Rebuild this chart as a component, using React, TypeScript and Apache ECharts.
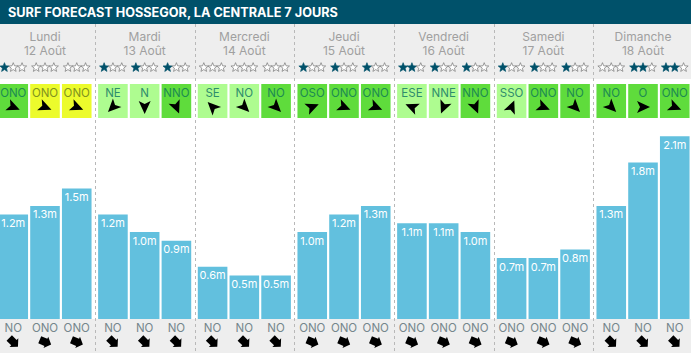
import React, { useEffect, useRef } from "react";
import * as echarts from "echarts";

const title = "SURF FORECAST HOSSEGOR, LA CENTRALE 7 JOURS";
const dayNames = ["Lundi", "Mardi", "Mercredi", "Jeudi", "Vendredi", "Samedi", "Dimanche"];
const dayDates = ["12 Août", "13 Août", "14 Août", "15 Août", "16 Août", "17 Août", "18 Août"];
const waveHeights = [
  [1.2, 1.3, 1.5],
  [1.2, 1.0, 0.9],
  [0.6, 0.5, 0.5],
  [1.0, 1.2, 1.3],
  [1.1, 1.1, 1.0],
  [0.7, 0.7, 0.8],
  [1.3, 1.8, 2.1],
];
const starCounts = [
  [1, 0, 0],
  [1, 1, 1],
  [0, 0, 0],
  [1, 1, 1],
  [2, 1, 1],
  [1, 1, 1],
  [0, 2, 2],
];
const windDirs = [
  ["ONO", "ONO", "ONO"],
  ["NE", "N", "NNO"],
  ["SE", "NO", "NO"],
  ["OSO", "ONO", "ONO"],
  ["ESE", "NNE", "NNO"],
  ["SSO", "ONO", "NO"],
  ["NO", "O", "ONO"],
];
// g = strong green, l = light green, y = yellow
const windKinds = [
  ["g", "y", "y"],
  ["l", "l", "g"],
  ["l", "l", "g"],
  ["g", "g", "g"],
  ["l", "l", "g"],
  ["l", "g", "g"],
  ["g", "g", "g"],
];
const swellDirs = [
  ["NO", "ONO", "ONO"],
  ["NO", "NO", "NO"],
  ["NO", "NO", "NO"],
  ["ONO", "ONO", "ONO"],
  ["ONO", "ONO", "ONO"],
  ["ONO", "ONO", "ONO"],
  ["NO", "NO", "NO"],
];

const compass: Record<string, number> = {
  N: 0, NNE: 22.5, NE: 45, ENE: 67.5, E: 90, ESE: 112.5, SE: 135, SSE: 157.5,
  S: 180, SSO: 202.5, SO: 225, OSO: 247.5, O: 270, ONO: 292.5, NO: 315, NNO: 337.5,
};
const tileFill: Record<string, string> = { g: "#5fdc3c", l: "#aefc90", y: "#ecfb2c" };
const tileText: Record<string, string> = { g: "#1c8a52", l: "#2e8c6c", y: "#7f9220" };

const FONT = "Inter, 'Noto Sans', sans-serif";
const TEAL = "#00516a";
const BAR = "#62c0de";
const GREY_BG = "#eeeeee";
const SLOT = 0.3185;
const BAR_W = 29.6;

echarts.graphic.registerShape(
  "rateStar",
  echarts.graphic.extendPath(
    "M0 -4.4L1.12 -1.54L4.18 -1.36L1.81 0.59L2.59 3.56L0 1.9L-2.59 3.56L-1.81 0.59L-4.18 -1.36L-1.12 -1.54Z",
    {}
  )
);
echarts.graphic.registerShape(
  "windDart",
  echarts.graphic.extendPath("M0 7L6 -6L0 -3L-6 -6Z", {})
);
echarts.graphic.registerShape(
  "swellArrow",
  echarts.graphic.extendPath("M0 7L6.5 1L4 1L4 -6L-4 -6L-4 1L-6.5 1Z", {})
);

export default function App() {
  const ref = useRef<HTMLDivElement>(null);
  useEffect(() => {
    document.body.style.margin = "0";
    const chart = echarts.init(ref.current!, undefined, { renderer: "svg" });
    const barData: number[][] = [];
    waveHeights.forEach((vals, d) =>
      vals.forEach((v, s) => barData.push([d + (s - 1) * SLOT, v]))
    );
    chart.setOption({
      animation: false,
      backgroundColor: "#ffffff",
      grid: { left: 0, right: 0, top: 101.5, bottom: 34 },
      xAxis: { type: "value", min: -0.4515, max: 6.4815, show: false },
      yAxis: { type: "value", min: 0, max: 2.5, show: false },
      series: [
        {
          type: "bar",
          data: barData,
          barWidth: BAR_W,
          itemStyle: { color: BAR },
          z: 3,
          label: {
            show: true,
            position: "insideTop",
            distance: 3,
            color: "#ffffff",
            fontFamily: FONT,
            fontSize: 11,
            formatter: (p: any) => p.value[1].toFixed(1) + "m",
          },
        },
      ],
    });
    const px = (x: number) => chart.convertToPixel({ xAxisIndex: 0 }, x) as number;
    const els: any[] = [
      { type: "rect", shape: { x: 0, y: 0, width: 691, height: 24 }, style: { fill: TEAL }, z: 1 },
      { type: "rect", shape: { x: 0, y: 24, width: 691, height: 55 }, style: { fill: GREY_BG }, z: 1 },
      { type: "rect", shape: { x: 0, y: 319, width: 691, height: 34 }, style: { fill: GREY_BG }, z: 1 },
      {
        type: "text", x: 8, y: 12, z: 5,
        style: { text: title, fill: "#ffffff", font: `700 12.7px ${FONT}`, textVerticalAlign: "middle" },
      },
    ];
    dayNames.forEach((name, d) => {
      const cx = px(d);
      els.push({
        type: "text", x: cx, y: 36, z: 5,
        style: { text: name, fill: "#a0a0a0", font: `400 12px ${FONT}`, textAlign: "center", textVerticalAlign: "middle" },
      });
      els.push({
        type: "text", x: cx, y: 50, z: 5,
        style: { text: dayDates[d], fill: "#a0a0a0", font: `400 12px ${FONT}`, textAlign: "center", textVerticalAlign: "middle" },
      });
      if (d > 0) {
        const lx = Math.round(px(d - 0.5)) + 0.5;
        els.push({
          type: "line", z: 4,
          shape: { x1: lx, y1: 24, x2: lx, y2: 353 },
          style: { stroke: "#b8b8b8", lineWidth: 1, lineDash: [3, 3] },
        });
      }
      for (let s = 0; s < 3; s++) {
        const sx = px(d + (s - 1) * SLOT);
        for (let k = 0; k < 3; k++) {
          const on = k < starCounts[d][s];
          els.push({
            type: "rateStar", x: sx + (k - 1) * 8.8, y: 67.5, z: 5, scaleX: 1.1, scaleY: 1.1,
            style: on
              ? { fill: TEAL, stroke: TEAL, lineWidth: 0.6 }
              : { fill: "#ffffff", stroke: "#808080", lineWidth: 0.7 },
          });
        }
        const kind = windKinds[d][s];
        els.push({
          type: "rect", z: 2,
          shape: { x: sx - BAR_W / 2, y: 84, width: BAR_W, height: 34 },
          style: { fill: tileFill[kind] },
        });
        els.push({
          type: "text", x: sx, y: 93, z: 5,
          style: {
            text: windDirs[d][s], fill: tileText[kind], font: `400 11.5px ${FONT}`,
            textAlign: "center", textVerticalAlign: "middle",
          },
        });
        els.push({
          type: "windDart", x: sx, y: 107, z: 5, scaleX: 1, scaleY: 1,
          rotation: (-compass[windDirs[d][s]] * Math.PI) / 180,
          style: { fill: "#000000" },
        });
        els.push({
          type: "text", x: sx, y: 328, z: 5,
          style: {
            text: swellDirs[d][s], fill: "#75868c", font: `400 11.5px ${FONT}`,
            textAlign: "center", textVerticalAlign: "middle",
          },
        });
        els.push({
          type: "swellArrow", x: sx, y: 342, z: 5, scaleX: 0.95, scaleY: 0.95,
          rotation: (-compass[swellDirs[d][s]] * Math.PI) / 180,
          style: { fill: "#000000" },
        });
      }
    });
    chart.setOption({ graphic: { elements: els } });
    return () => chart.dispose();
  }, []);
  return <div ref={ref} style={{ width: 691, height: 353 }} />;
}
